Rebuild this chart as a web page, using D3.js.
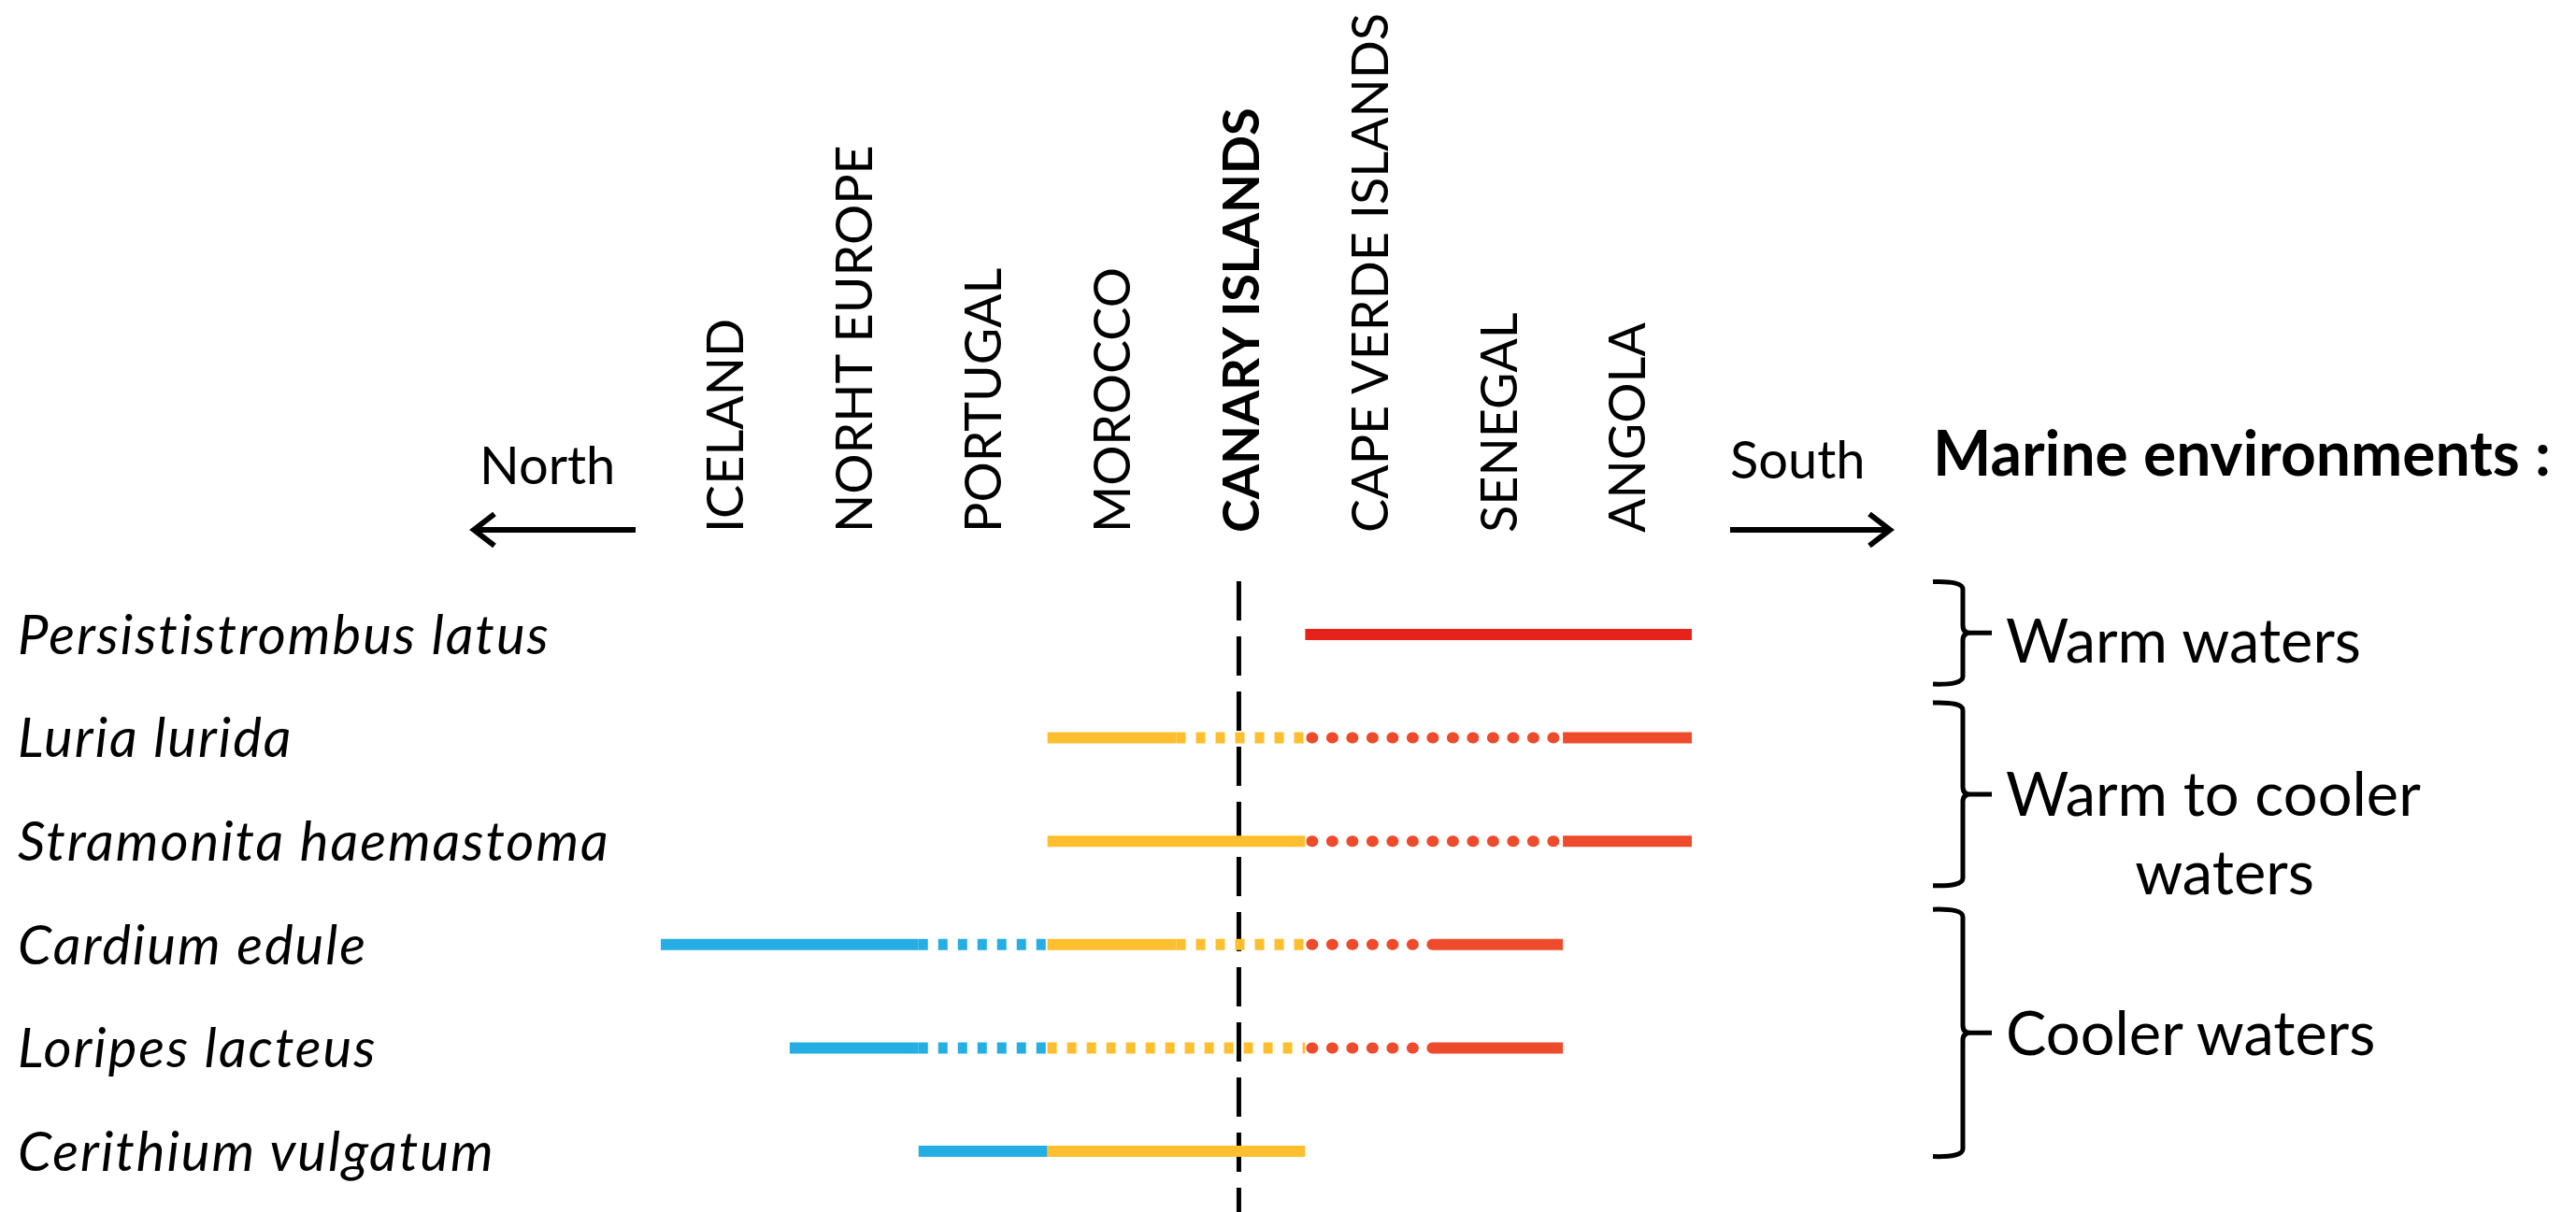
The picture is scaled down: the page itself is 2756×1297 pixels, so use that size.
<!DOCTYPE html>
<html>
<head>
<meta charset="utf-8">
<script src="https://cdn.jsdelivr.net/npm/d3@7"></script>
<style>
  html, body { margin: 0; padding: 0; background: #ffffff; }
  svg { display: block; }
  text { font-family: 'Lato', 'Carlito', 'Open Sans', sans-serif; fill: #000; }
</style>
</head>
<body>
<script>
// ---------- DATA ----------
const countries = ["ICELAND", "NORHT EUROPE", "PORTUGAL", "MOROCCO", "CANARY ISLANDS", "CAPE VERDE ISLANDS", "SENEGAL", "ANGOLA"];
const highlightCountry = "CANARY ISLANDS";

const species = ["Persististrombus latus", "Luria lurida", "Stramonita haemastoma", "Cardium edule", "Loripes lacteus", "Cerithium vulgatum"];

// range segments: [species, fromEdge, toEdge, zone, style]  (edges 0..8 = country column boundaries)
const segments = [
  ["Persististrombus latus", 5, 8, "hot", "solid"],
  ["Luria lurida", 3, 4, "temperate", "solid"],
  ["Luria lurida", 4, 5, "temperate", "dotted"],
  ["Luria lurida", 5, 7, "warm", "dotted"],
  ["Luria lurida", 7, 8, "warm", "solid"],
  ["Stramonita haemastoma", 3, 5, "temperate", "solid"],
  ["Stramonita haemastoma", 5, 7, "warm", "dotted"],
  ["Stramonita haemastoma", 7, 8, "warm", "solid"],
  ["Cardium edule", 0, 2, "cold", "solid"],
  ["Cardium edule", 2, 3, "cold", "dotted"],
  ["Cardium edule", 3, 4, "temperate", "solid"],
  ["Cardium edule", 4, 5, "temperate", "dotted"],
  ["Cardium edule", 5, 6, "warm", "dotted"],
  ["Cardium edule", 6, 7, "warm", "solid"],
  ["Loripes lacteus", 1, 2, "cold", "solid"],
  ["Loripes lacteus", 2, 3, "cold", "dotted"],
  ["Loripes lacteus", 3, 5, "temperate", "dotted"],
  ["Loripes lacteus", 5, 6, "warm", "dotted"],
  ["Loripes lacteus", 6, 7, "warm", "solid"],
  ["Cerithium vulgatum", 2, 3, "cold", "solid"],
  ["Cerithium vulgatum", 3, 5, "temperate", "solid"]
];

const zones = ["cold", "temperate", "warm", "hot"];
const zoneColors = ["#25aee4", "#fdbf2e", "#ee4b2c", "#e6221d"];

const directionLabels = ["North", "South"];
const legendTitle = "Marine environments :";
// groups: label lines, row span (in species-row units) of the brace
const legendLines = [["Warm waters"], ["Warm to cooler", "waters"], ["Cooler waters"]];
const legendSpanStart = [-0.51, 0.66, 2.66];
const legendSpanEnd = [0.48, 2.43, 5.05];

// ---------- LAYOUT ----------
const W = 2756, H = 1297;
const svg = d3.select("body").append("svg").attr("width", W).attr("height", H);

const x = d3.scaleLinear().domain([0, countries.length]).range([707, 1810]);
const y = d3.scalePoint().domain(species).range([679, 1232]);
const rowStep = y.step();
const rowY = r => y(species[0]) + r * rowStep;
const color = d3.scaleOrdinal().domain(zones).range(zoneColors);

const CAP = 0.716; // Lato cap height ratio

// ---------- COUNTRY LABELS ----------
const fsCountry = 54;
const labelBottom = 570;
svg.append("g").selectAll("text").data(countries).join("text")
  .attr("transform", (d, i) => `translate(${x(i + 0.5) + CAP * fsCountry / 2},${labelBottom}) rotate(-90)`)
  .attr("font-size", fsCountry)
  .attr("font-weight", d => d === highlightCountry ? 700 : 400)
  .text(d => d);

// ---------- DIRECTION ARROWS ----------
const fsDir = 56;
const arrowY = 567;
const arrowG = svg.append("g").attr("stroke", "#000").attr("fill", "none").attr("stroke-width", 6);
// North (left)
const nx0 = x(0) - 27, nx1 = x(0) - 200;
arrowG.append("line").attr("x1", nx0).attr("x2", nx1 + 3).attr("y1", arrowY).attr("y2", arrowY);
arrowG.append("path").attr("d", `M${nx1 + 22},${arrowY - 17} L${nx1},${arrowY} L${nx1 + 22},${arrowY + 17}`)
  .attr("stroke-linejoin", "miter");
svg.append("text").attr("x", nx1 + 6).attr("y", 518).attr("font-size", fsDir).text(directionLabels[0]);
// South (right)
const sx0 = x(countries.length) + 41, sx1 = x(countries.length) + 212;
arrowG.append("line").attr("x1", sx0).attr("x2", sx1 - 3).attr("y1", arrowY).attr("y2", arrowY);
arrowG.append("path").attr("d", `M${sx1 - 22},${arrowY - 17} L${sx1},${arrowY} L${sx1 - 22},${arrowY + 17}`);
svg.append("text").attr("x", sx0).attr("y", 512).attr("font-size", fsDir).text(directionLabels[1]);

// ---------- DASHED REFERENCE LINE (Canary Islands) ----------
const ci = countries.indexOf(highlightCountry);
svg.append("line")
  .attr("x1", x(ci + 0.5) - 2).attr("x2", x(ci + 0.5) - 2)
  .attr("y1", 622).attr("y2", H)
  .attr("stroke", "#000").attr("stroke-width", 5)
  .attr("stroke-dasharray", "42,17");

// ---------- SPECIES LABELS ----------
const fsSpecies = 58;
svg.append("g").selectAll("text").data(species).join("text")
  .attr("x", 19)
  .attr("y", d => y(d) + CAP * fsSpecies / 2)
  .attr("font-size", fsSpecies)
  .attr("font-style", "italic")
  .attr("letter-spacing", 2)
  .text(d => d);

// ---------- RANGE SEGMENTS ----------
const lineW = 12;
svg.append("g").selectAll("line").data(segments).join("line")
  .attr("x1", d => x(d[1]))
  .attr("x2", d => x(d[2]))
  .attr("y1", d => y(d[0]))
  .attr("y2", d => y(d[0]))
  .attr("stroke", d => color(d[3]))
  .attr("stroke-width", lineW)
  .attr("stroke-linecap", d => (d[4] === "dotted" && (d[3] === "warm" || d[3] === "hot")) ? "round" : "butt")
  .attr("stroke-dasharray", d => {
    if (d[4] !== "dotted") return null;
    if (d[3] === "warm" || d[3] === "hot") return "1,20.5";
    return "10,11";
  })
  .attr("stroke-dashoffset", d => (d[4] === "dotted" && d[3] === "warm") ? -7 : 0);

// ---------- LEGEND ----------
const fsLegend = 65;
const braceX = 2100, braceL = 2068, tipX = 2131, textX = 2146;
svg.append("text").attr("x", 2068).attr("y", 509)
  .attr("font-size", 66).attr("font-weight", 700).text(legendTitle);

const lg = svg.append("g");
legendLines.forEach((lines, i) => {
  const y0 = rowY(legendSpanStart[i]);
  const y1 = rowY(legendSpanEnd[i]);
  const ym = (y0 + y1) / 2;
  const r = 8;
  const p = d3.path();
  p.moveTo(braceL, y0);
  p.quadraticCurveTo(braceX, y0 - 1, braceX, y0 + r);
  p.lineTo(braceX, ym - r);
  p.quadraticCurveTo(braceX, ym, braceX + r, ym);
  p.lineTo(tipX, ym);
  p.moveTo(braceX + r, ym);
  p.quadraticCurveTo(braceX, ym, braceX, ym + r);
  p.lineTo(braceX, y1 - r);
  p.quadraticCurveTo(braceX, y1 + 1, braceL, y1);
  lg.append("path").attr("d", p.toString())
    .attr("fill", "none").attr("stroke", "#000").attr("stroke-width", 5);

  const baseY = ym + CAP * fsLegend / 2 + (i === 0 ? 8 : 0);
  lines.forEach((ln, k) => {
    lg.append("text").attr("font-size", fsLegend)
      .attr("x", k === 0 ? textX : 2380)
      .attr("text-anchor", k === 0 ? "start" : "middle")
      .attr("y", baseY + k * 84)
      .text(ln);
  });
});
</script>
</body>
</html>
